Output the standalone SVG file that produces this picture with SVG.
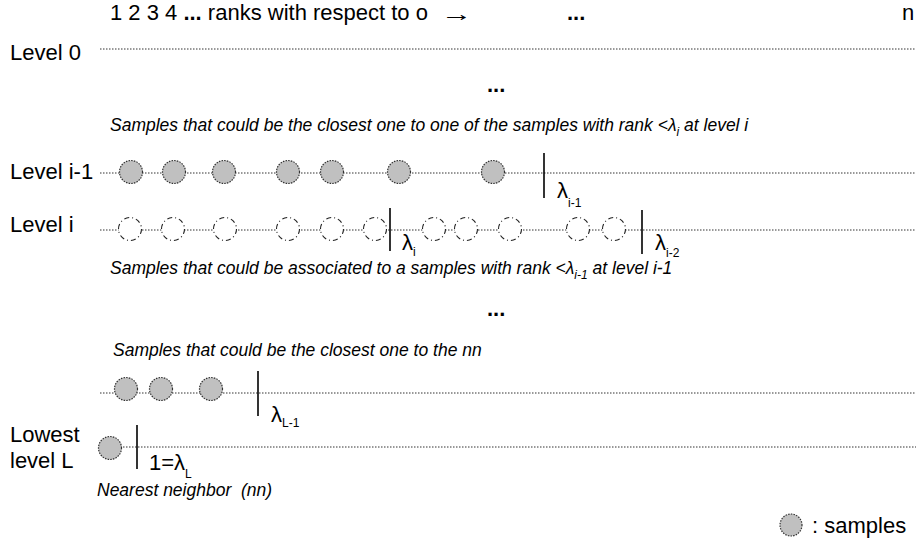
<svg xmlns="http://www.w3.org/2000/svg" width="916" height="541" viewBox="0 0 916 541">
<style>
text{font-family:"Liberation Sans",Arial,sans-serif;fill:#000}
.big{font-size:22px}
.it{font-size:17.5px;font-style:italic}
.lam{font-size:22px}
.sub{font-size:12px}
.lvl{stroke:#333;stroke-width:1;stroke-dasharray:1.5,1.5;fill:none}
.tick{stroke:#000;stroke-width:1.6}
.s{fill:#c0c0c0;stroke:#333;stroke-width:1.2;stroke-dasharray:1.5,1.2}
.c{fill:#fff;stroke:#222;stroke-width:1.1;stroke-dasharray:5,3,1,3}
</style>
<rect width="916" height="541" fill="#fff"/>
<g id="header">
<text class="big" x="110" y="20">1 2 3 4 <tspan font-weight="bold">...</tspan> ranks with respect to o</text>
<text transform="translate(441,21) scale(1.5,1)" font-family="'DejaVu Sans',sans-serif" font-size="21">→</text>
<text class="big" x="567" y="20" font-weight="bold">...</text>
<text class="big" x="902" y="20">n</text>
</g>
<g id="connectors">
<line class="lvl" x1="100" y1="49" x2="916" y2="49"/>
<line class="lvl" x1="100" y1="173" x2="916" y2="173"/>
<line class="lvl" x1="100" y1="230" x2="916" y2="230"/>
<line class="lvl" x1="100" y1="393" x2="916" y2="393"/>
<line class="lvl" x1="120" y1="447" x2="916" y2="447"/>
</g>
<g id="level0">
<text class="big" x="10" y="60">Level 0</text>
</g>
<text class="big" x="487" y="92" font-weight="bold">...</text>
<text class="it" x="110" y="131">Samples that could be the closest one to one of the samples with rank &lt;λ<tspan class="sub" dy="5">i</tspan><tspan dy="-5"> at level i</tspan></text>
<g id="level-i-1">
<text class="big" x="10" y="179" font-size="23">Level i-1</text>
<circle class="s" cx="131" cy="172" r="11.5"/>
<circle class="s" cx="174" cy="172" r="11.5"/>
<circle class="s" cx="224" cy="172" r="11.5"/>
<circle class="s" cx="288" cy="172" r="11.5"/>
<circle class="s" cx="332" cy="172" r="11.5"/>
<circle class="s" cx="399" cy="172" r="11.5"/>
<circle class="s" cx="493" cy="172" r="11.5"/>
<line class="tick" x1="544" y1="153" x2="544" y2="198"/>
<text class="lam" x="557" y="198">λ<tspan class="sub" dy="9">i-1</tspan></text>
</g>
<g id="level-i">
<text class="big" x="10" y="232">Level i</text>
<circle class="c" cx="130" cy="229" r="11.5"/>
<circle class="c" cx="173" cy="229" r="11.5"/>
<circle class="c" cx="225" cy="229" r="11.5"/>
<circle class="c" cx="288" cy="229" r="11.5"/>
<circle class="c" cx="332" cy="229" r="11.5"/>
<circle class="c" cx="375" cy="229" r="11.5"/>
<circle class="c" cx="434" cy="229" r="11.5"/>
<circle class="c" cx="466" cy="229" r="11.5"/>
<circle class="c" cx="510" cy="229" r="11.5"/>
<circle class="c" cx="578" cy="229" r="11.5"/>
<circle class="c" cx="614" cy="229" r="11.5"/>
<line class="tick" x1="390" y1="208" x2="390" y2="251"/>
<text class="lam" x="402" y="250">λ<tspan class="sub" dy="6">i</tspan></text>
<line class="tick" x1="642" y1="210" x2="642" y2="254"/>
<text class="lam" x="655" y="250">λ<tspan class="sub" dy="7">i-2</tspan></text>
</g>
<text class="it" x="110" y="274">Samples that could be associated to a samples with rank &lt;λ<tspan class="sub" dy="5">i-1</tspan><tspan dy="-5"> at level i-1</tspan></text>
<text class="big" x="487" y="316" font-weight="bold">...</text>
<text class="it" x="113" y="356">Samples that could be the closest one to the nn</text>
<g id="level-L-1">
<circle class="s" cx="126" cy="389" r="11.5"/>
<circle class="s" cx="161" cy="389" r="11.5"/>
<circle class="s" cx="211" cy="389" r="11.5"/>
<line class="tick" x1="258" y1="371" x2="258" y2="416"/>
<text class="lam" x="271" y="422">λ<tspan class="sub" dy="5">L-1</tspan></text>
</g>
<g id="level-L">
<text class="big" x="10" y="442">Lowest</text>
<text class="big" x="10" y="468">level L</text>
<circle class="s" cx="110" cy="448" r="11.5"/>
<line class="tick" x1="137" y1="425" x2="137" y2="469"/>
<text class="lam" x="149" y="470">1=λ<tspan class="sub" dy="8">L</tspan></text>
<text class="it" x="97" y="496" xml:space="preserve">Nearest neighbor  (nn)</text>
</g>
<g id="legend">
<circle class="s" cx="791" cy="525" r="11"/>
<text class="big" x="812" y="533" font-size="20">: samples</text>
</g>
</svg>
